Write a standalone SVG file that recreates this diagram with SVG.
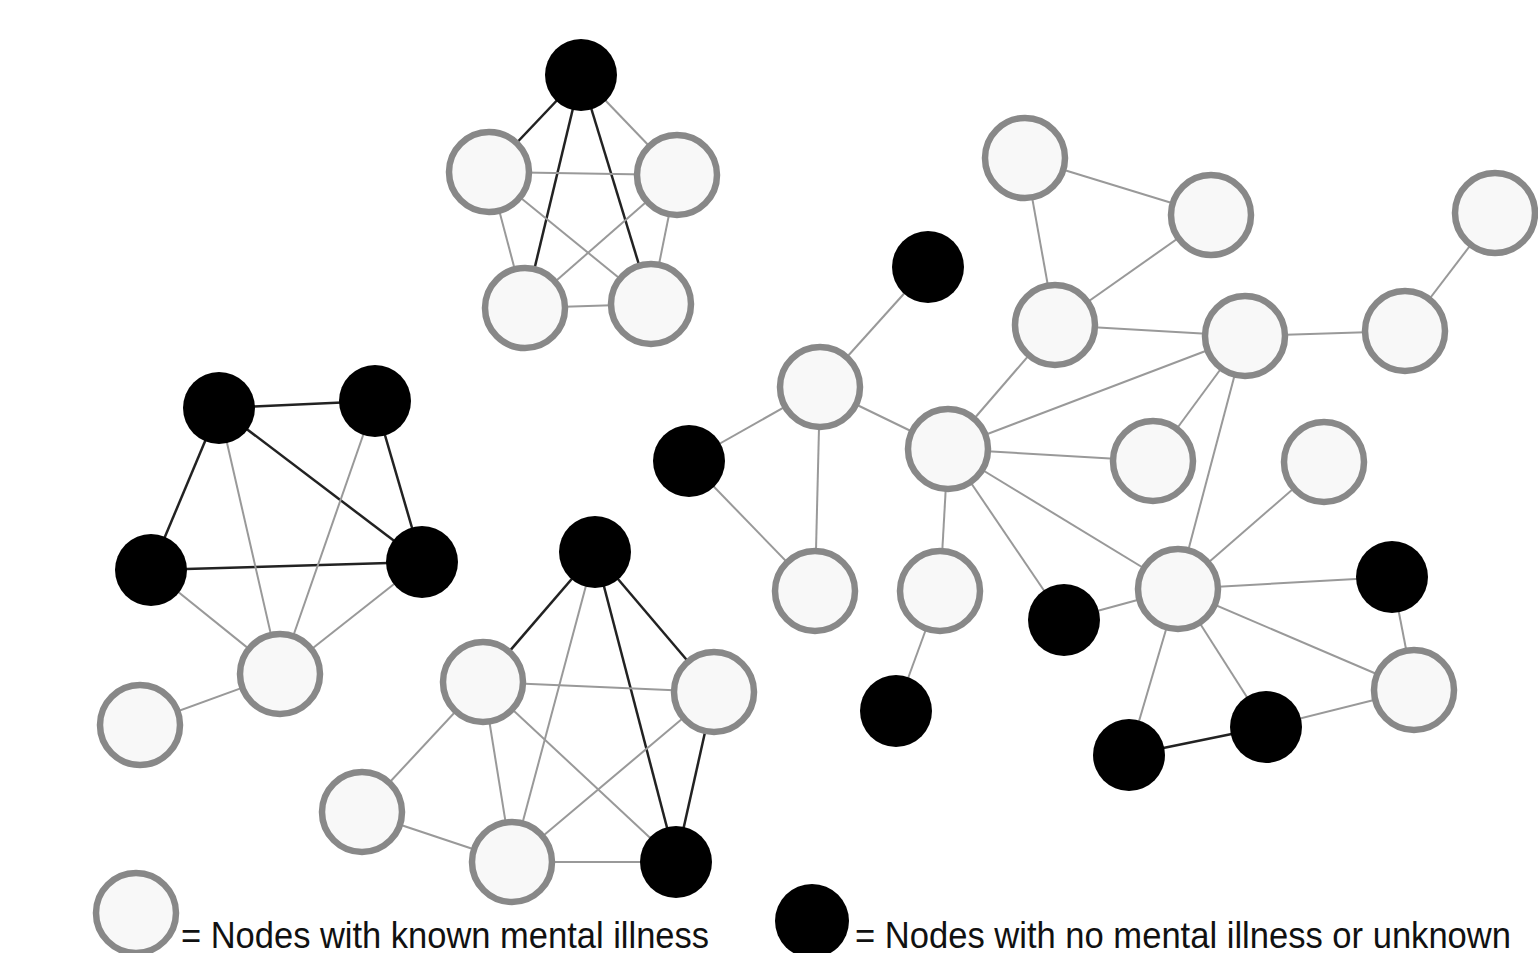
<svg xmlns="http://www.w3.org/2000/svg" width="1538" height="953" viewBox="0 0 1538 953">
<style>
.w{fill:#f8f8f8;stroke:#888;stroke-width:6.5}
.b{fill:#000}
.g{stroke:#999;stroke-width:2;fill:none}
.d{stroke:#222;stroke-width:2.5;fill:none}
.t{font-family:"Liberation Sans Narrow","Liberation Sans",Arial,sans-serif;font-size:36px;fill:#111}
</style>
<rect width="1538" height="953" fill="#fff"/>
<g id="connectors">
<line class="d" x1="581" y1="75" x2="489" y2="172"/>
<line class="d" x1="581" y1="75" x2="525" y2="308"/>
<line class="d" x1="581" y1="75" x2="651" y2="304"/>
<line class="g" x1="581" y1="75" x2="677" y2="175"/>
<line class="g" x1="489" y1="172" x2="677" y2="175"/>
<line class="g" x1="489" y1="172" x2="525" y2="308"/>
<line class="g" x1="489" y1="172" x2="651" y2="304"/>
<line class="g" x1="677" y1="175" x2="525" y2="308"/>
<line class="g" x1="677" y1="175" x2="651" y2="304"/>
<line class="g" x1="525" y1="308" x2="651" y2="304"/>
<line class="d" x1="219" y1="408" x2="375" y2="401"/>
<line class="d" x1="219" y1="408" x2="151" y2="570"/>
<line class="d" x1="219" y1="408" x2="422" y2="562"/>
<line class="d" x1="375" y1="401" x2="422" y2="562"/>
<line class="d" x1="151" y1="570" x2="422" y2="562"/>
<line class="g" x1="219" y1="408" x2="280" y2="674"/>
<line class="g" x1="375" y1="401" x2="280" y2="674"/>
<line class="g" x1="151" y1="570" x2="280" y2="674"/>
<line class="g" x1="422" y1="562" x2="280" y2="674"/>
<line class="g" x1="280" y1="674" x2="140" y2="725"/>
<line class="d" x1="595" y1="552" x2="483" y2="682"/>
<line class="d" x1="595" y1="552" x2="714" y2="692"/>
<line class="d" x1="595" y1="552" x2="676" y2="862"/>
<line class="g" x1="595" y1="552" x2="512" y2="862"/>
<line class="g" x1="483" y1="682" x2="714" y2="692"/>
<line class="g" x1="483" y1="682" x2="512" y2="862"/>
<line class="g" x1="483" y1="682" x2="676" y2="862"/>
<line class="g" x1="483" y1="682" x2="362" y2="812"/>
<line class="g" x1="714" y1="692" x2="512" y2="862"/>
<line class="d" x1="714" y1="692" x2="676" y2="862"/>
<line class="g" x1="362" y1="812" x2="512" y2="862"/>
<line class="g" x1="512" y1="862" x2="676" y2="862"/>
<line class="g" x1="1025" y1="158" x2="1211" y2="215"/>
<line class="g" x1="1025" y1="158" x2="1055" y2="325"/>
<line class="g" x1="1211" y1="215" x2="1055" y2="325"/>
<line class="g" x1="1055" y1="325" x2="1245" y2="336"/>
<line class="g" x1="1245" y1="336" x2="1405" y2="331"/>
<line class="g" x1="1405" y1="331" x2="1495" y2="213"/>
<line class="g" x1="1055" y1="325" x2="948" y2="449"/>
<line class="g" x1="1245" y1="336" x2="948" y2="449"/>
<line class="g" x1="1245" y1="336" x2="1153" y2="461"/>
<line class="g" x1="1245" y1="336" x2="1178" y2="589"/>
<line class="g" x1="948" y1="449" x2="1153" y2="461"/>
<line class="g" x1="948" y1="449" x2="1178" y2="589"/>
<line class="g" x1="948" y1="449" x2="1064" y2="620"/>
<line class="g" x1="948" y1="449" x2="940" y2="591"/>
<line class="g" x1="948" y1="449" x2="820" y2="387"/>
<line class="g" x1="820" y1="387" x2="928" y2="267"/>
<line class="g" x1="820" y1="387" x2="689" y2="461"/>
<line class="g" x1="820" y1="387" x2="815" y2="591"/>
<line class="g" x1="689" y1="461" x2="815" y2="591"/>
<line class="g" x1="940" y1="591" x2="896" y2="711"/>
<line class="g" x1="1064" y1="620" x2="1178" y2="589"/>
<line class="g" x1="1178" y1="589" x2="1324" y2="462"/>
<line class="g" x1="1178" y1="589" x2="1392" y2="577"/>
<line class="g" x1="1178" y1="589" x2="1414" y2="690"/>
<line class="g" x1="1178" y1="589" x2="1266" y2="727"/>
<line class="g" x1="1178" y1="589" x2="1129" y2="755"/>
<line class="g" x1="1392" y1="577" x2="1414" y2="690"/>
<line class="g" x1="1414" y1="690" x2="1266" y2="727"/>
<line class="d" x1="1266" y1="727" x2="1129" y2="755"/>
</g>
<g id="n1"><circle class="b" cx="581" cy="75" r="36"/></g>
<g id="n2"><circle class="w" cx="489" cy="172" r="40"/></g>
<g id="n3"><circle class="w" cx="677" cy="175" r="40"/></g>
<g id="n4"><circle class="w" cx="525" cy="308" r="40"/></g>
<g id="n5"><circle class="w" cx="651" cy="304" r="40"/></g>
<g id="n6"><circle class="b" cx="219" cy="408" r="36"/></g>
<g id="n7"><circle class="b" cx="375" cy="401" r="36"/></g>
<g id="n8"><circle class="b" cx="151" cy="570" r="36"/></g>
<g id="n9"><circle class="b" cx="422" cy="562" r="36"/></g>
<g id="n10"><circle class="w" cx="280" cy="674" r="40"/></g>
<g id="n11"><circle class="w" cx="140" cy="725" r="40"/></g>
<g id="n12"><circle class="b" cx="595" cy="552" r="36"/></g>
<g id="n13"><circle class="w" cx="483" cy="682" r="40"/></g>
<g id="n14"><circle class="w" cx="714" cy="692" r="40"/></g>
<g id="n15"><circle class="w" cx="362" cy="812" r="40"/></g>
<g id="n16"><circle class="w" cx="512" cy="862" r="40"/></g>
<g id="n17"><circle class="b" cx="676" cy="862" r="36"/></g>
<g id="n18"><circle class="w" cx="1025" cy="158" r="40"/></g>
<g id="n19"><circle class="w" cx="1211" cy="215" r="40"/></g>
<g id="n20"><circle class="w" cx="1495" cy="213" r="40"/></g>
<g id="n21"><circle class="b" cx="928" cy="267" r="36"/></g>
<g id="n22"><circle class="w" cx="1055" cy="325" r="40"/></g>
<g id="n23"><circle class="w" cx="1245" cy="336" r="40"/></g>
<g id="n24"><circle class="w" cx="1405" cy="331" r="40"/></g>
<g id="n25"><circle class="w" cx="820" cy="387" r="40"/></g>
<g id="n26"><circle class="b" cx="689" cy="461" r="36"/></g>
<g id="n27"><circle class="w" cx="948" cy="449" r="40"/></g>
<g id="n28"><circle class="w" cx="1153" cy="461" r="40"/></g>
<g id="n29"><circle class="w" cx="1324" cy="462" r="40"/></g>
<g id="n30"><circle class="w" cx="815" cy="591" r="40"/></g>
<g id="n31"><circle class="w" cx="940" cy="591" r="40"/></g>
<g id="n32"><circle class="b" cx="1064" cy="620" r="36"/></g>
<g id="n33"><circle class="w" cx="1178" cy="589" r="40"/></g>
<g id="n34"><circle class="b" cx="1392" cy="577" r="36"/></g>
<g id="n35"><circle class="w" cx="1414" cy="690" r="40"/></g>
<g id="n36"><circle class="b" cx="896" cy="711" r="36"/></g>
<g id="n37"><circle class="b" cx="1266" cy="727" r="36"/></g>
<g id="n38"><circle class="b" cx="1129" cy="755" r="36"/></g>
<g id="legend-white">
<circle class="w" cx="136" cy="913" r="40"/>
<text class="t" x="181" y="948" textLength="528" lengthAdjust="spacingAndGlyphs">= Nodes with known mental illness</text>
</g>
<g id="legend-black">
<circle class="b" cx="812" cy="921" r="37"/>
<text class="t" x="855" y="948" textLength="656" lengthAdjust="spacingAndGlyphs">= Nodes with no mental illness or unknown</text>
</g>
</svg>
